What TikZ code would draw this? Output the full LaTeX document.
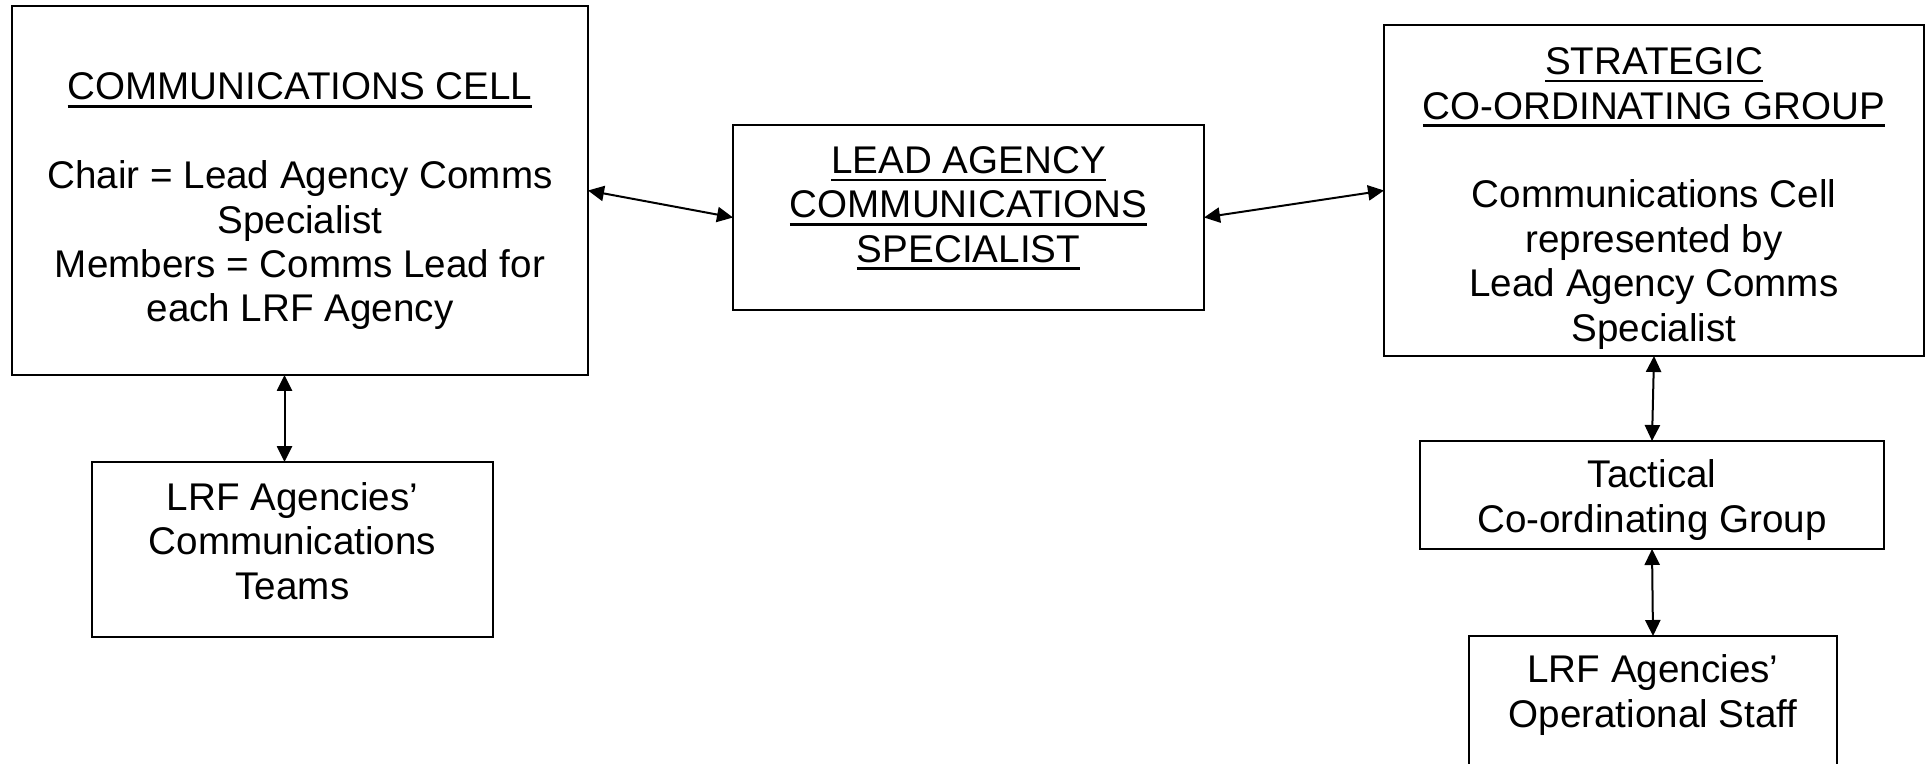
\documentclass[tikz,border=0pt]{standalone}
\usepackage{fontspec}
\setmainfont{Liberation Sans}
\usetikzlibrary{arrows.meta}
\newcommand\myul[1]{\setbox0\hbox{#1}\rlap{\rule[-3.9pt]{\wd0}{1.3pt}}\box0}
\tikzset{
  box/.style={draw, line width=1pt, inner sep=0pt, outer sep=0pt},
  txt/.style={align=center, inner sep=0pt, font=\fontsize{19.3}{22.2}\selectfont},
  arr/.style={{Triangle[length=8pt,width=7.6pt]}-{Triangle[length=8pt,width=7.6pt]}, line width=1pt}
}
\begin{document}
\begin{tikzpicture}[x=0.5pt,y=-0.5pt]
\useasboundingbox (0,0) rectangle (1926,764);
\clip (0,0) rectangle (1926,764);
% boxes
\node[box, minimum width=288pt, minimum height=184.5pt] (cc) at (300,190.5) {};
\node[box, minimum width=200.5pt, minimum height=87.5pt] (teams) at (292.5,549.5) {};
\node[box, minimum width=235.5pt, minimum height=92.5pt] (la) at (968.5,217.5) {};
\node[box, minimum width=270pt, minimum height=165.5pt] (sg) at (1654,190.5) {};
\node[box, minimum width=232pt, minimum height=54pt] (tac) at (1652,495) {};
\node[box, minimum width=184pt, minimum height=82pt] (ops) at (1653,718) {};
% texts
\node[txt] (cct) at (300,202) {\strut\myul{COMMUNICATIONS CELL}\\[22.2pt]
  Chair = Lead Agency Comms\\ Specialist\\ Members = Comms Lead for\\ each LRF Agency\strut};
\node[txt] (teamst) at (292.5,546) {\strut LRF Agencies’\\ Communications\\ Teams\strut};
\node[txt] (lat) at (968.5,209) {\strut\myul{LEAD AGENCY}\\ \myul{COMMUNICATIONS}\\ \myul{SPECIALIST}\strut};
\node[txt] (sgt) at (1654,199) {\strut\myul{STRATEGIC}\\ \myul{CO-ORDINATING GROUP}\\[22.2pt]
  Communications Cell\\ represented by\\ Lead Agency Comms\\ Specialist\strut};
\node[txt] (tact) at (1652,501) {\strut Tactical\\ Co-ordinating Group\strut};
\node[txt] (opst) at (1653,696) {\strut LRF Agencies’\\ Operational Staff\strut};
% connectors
\draw[arr] (cc.east) -- (la.west);
\draw[arr] (la.east) -- (sg.west);
\draw[arr] ([xshift=-4pt]teams.north |- cc.south) -- ([xshift=-4pt]teams.north);
\draw[arr] (sg.south) -- (tac.north);
\draw[arr] (tac.south) -- (ops.north);
\end{tikzpicture}
\end{document}
